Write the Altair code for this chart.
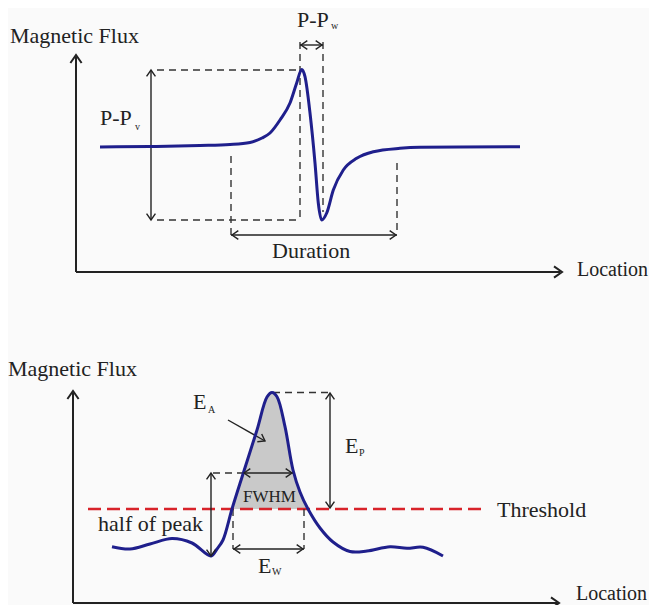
import altair as alt
import pandas as pd

# Coordinate frame of the schematic (figure pixels, y grows downward)
X_DOMAIN = [8, 649]
Y_DOMAIN = [605, 8]
W, H = 641, 597
FONT = "Liberation Serif"
INK = "#222222"
CURVE = "#1f1f8c"
RED = "#d8232a"

# ---- upper panel: bipolar flux-leakage signal ----
upper_x = [100, 150, 200, 230, 250, 262, 270, 280, 290, 296.7, 301.7, 305, 310, 315,
           318.3, 321.7, 326.7, 333.3, 343.3, 356.7, 373.3, 400, 420, 460, 520]
upper_y = [147, 146.5, 145.5, 144.5, 142.5, 138, 133, 120, 103, 83, 69.5, 76.7, 113, 163,
           203, 220, 213, 190, 170, 158.3, 151.7, 148.3, 147.3, 147, 146.7]

# ---- lower panel: single-peak signal with threshold ----
lower_x = [112, 130, 150, 172, 192, 211, 217, 223, 232, 243, 257, 267, 272, 277,
           285, 293, 300, 308, 320, 333, 350, 367, 390, 407, 423, 443]
lower_y = [546.7, 549, 544, 538.5, 543, 556, 549, 540, 509, 474, 430, 397,
           392.5, 396.7, 426.7, 470, 492, 509, 528, 542, 551.5, 551, 546.7, 548.3,
           547.3, 556]
threshold_y = 509
fill_from, fill_to = 232, 308

# ---- axes (x, y, x2, y2) ----
axis_lines = [(76, 272, 76, 57), (76, 272, 560, 272),
              (73, 603, 73, 393), (73, 603, 557, 603)]
axis_heads = [(76, 55, 270), (562, 272, 0), (73, 391, 270), (559, 603, 0)]

# ---- dashed guide lines ----
dashed_lines = [(157, 70, 300, 70), (157, 220, 300, 220), (300, 42, 300, 220),
                (323, 42, 323, 212), (231, 156, 231, 237), (397, 163, 397, 235),
                (273, 392.5, 330, 392.5), (213, 473, 243, 473),
                (233, 509, 233, 549), (304, 509, 304, 549)]
threshold_line = [(88, threshold_y, 487, threshold_y)]

# ---- dimension arrows ----
arrow_lines = [(151, 71, 151, 219), (300, 45, 323, 45), (231, 235, 397, 235),
               (330, 394, 330, 508), (211, 474, 211, 556), (243, 473, 293, 473),
               (233, 549, 304, 549), (228, 420, 265, 441)]
arrow_heads = [(151, 70, 270), (151, 220, 90), (301, 45, 180), (322, 45, 0),
               (232, 235, 180), (396, 235, 0), (330, 393, 270), (330, 508, 90),
               (211, 473, 270), (211, 556, 90), (244, 473, 180), (292, 473, 0),
               (234, 549, 180), (303, 549, 0), (265, 441, 29.6)]

# ---- text labels (x, baseline y, text, font size) ----
labels = [(10, 43, "Magnetic Flux", 22), (577, 276, "Location", 20),
          (100, 125, "P-P", 22), (135, 130, "v", 10),
          (297, 27, "P-P", 22), (331, 29, "w", 10),
          (272, 258, "Duration", 22),
          (8, 376, "Magnetic Flux", 22), (576, 600, "Location", 20),
          (193, 409, "E", 22), (208, 413, "A", 10),
          (345, 453, "E", 22), (359, 456, "P", 10),
          (243, 502, "FWHM", 17), (497, 517, "Threshold", 22),
          (98, 531, "half of peak", 22),
          (258, 573, "E", 22), (272, 575, "W", 10)]

# ---------------------------------------------------------------
def sx(field):
    return alt.X(field, type="quantitative", axis=None,
                 scale=alt.Scale(domain=X_DOMAIN, nice=False, zero=False))

def sy(field):
    return alt.Y(field, type="quantitative", axis=None,
                 scale=alt.Scale(domain=Y_DOMAIN, nice=False, zero=False))

def seg_df(rows):
    return pd.DataFrame(rows, columns=["x", "y", "x2", "y2"])

def head_df(rows):
    return pd.DataFrame(rows, columns=["x", "y", "angle"])

upper_df = pd.DataFrame({"x": upper_x, "y": upper_y})
lower_df = pd.DataFrame({"x": lower_x, "y": lower_y})
fill_df = lower_df[(lower_df.x >= fill_from) & (lower_df.x <= fill_to)].assign(base=threshold_y)
text_df = pd.DataFrame(labels, columns=["x", "y", "label", "fs"])

area = alt.Chart(fill_df).mark_area(interpolate="catmull-rom", color="#c9c9c9").encode(
    x=sx("x"), y=sy("y"), y2="base:Q")

line_up = alt.Chart(upper_df).mark_line(interpolate="monotone", strokeWidth=3,
                                        color=CURVE).encode(x=sx("x"), y=sy("y"))
line_lo = alt.Chart(lower_df).mark_line(interpolate="catmull-rom", strokeWidth=3,
                                        color=CURVE).encode(x=sx("x"), y=sy("y"))

def rules(df, **kw):
    return alt.Chart(df).mark_rule(**kw).encode(x=sx("x"), y=sy("y"), x2="x2:Q", y2="y2:Q")

axes = rules(seg_df(axis_lines), strokeWidth=2, color=INK)
dashed = rules(seg_df(dashed_lines), strokeWidth=1.4, color="#333333", strokeDash=[7, 5])
red = rules(seg_df(threshold_line), strokeWidth=2.6, color=RED, strokeDash=[13, 6])
arrows = rules(seg_df(arrow_lines), strokeWidth=1.4, color=INK)

CHEVRON = "M -1 -0.7 L 0 0 L -1 0.7"

def heads(df, size, width):
    return alt.Chart(df).mark_point(shape=CHEVRON, filled=False, opacity=1, size=size,
                                    strokeWidth=width, color=INK).encode(
        x=sx("x"), y=sy("y"), angle=alt.Angle("angle:Q", scale=None))

axis_h = heads(head_df(axis_heads), 256, 2)
arrow_h = heads(head_df(arrow_heads), 160, 1.4)

texts = alt.Chart(text_df).mark_text(font=FONT, align="left", baseline="alphabetic",
                                     color=INK).encode(
    x=sx("x"), y=sy("y"), text="label:N", size=alt.Size("fs:Q", scale=None))

chart = alt.layer(area, red, dashed, arrows, axes, line_up, line_lo, axis_h, arrow_h,
                  texts).properties(
    width=W, height=H, padding=0, autosize=alt.AutoSizeParams(type="none"),
    background="#fafafa",
).configure_view(stroke=None)

chart.save("out.html", embed_options={"renderer": "svg", "actions": False})
